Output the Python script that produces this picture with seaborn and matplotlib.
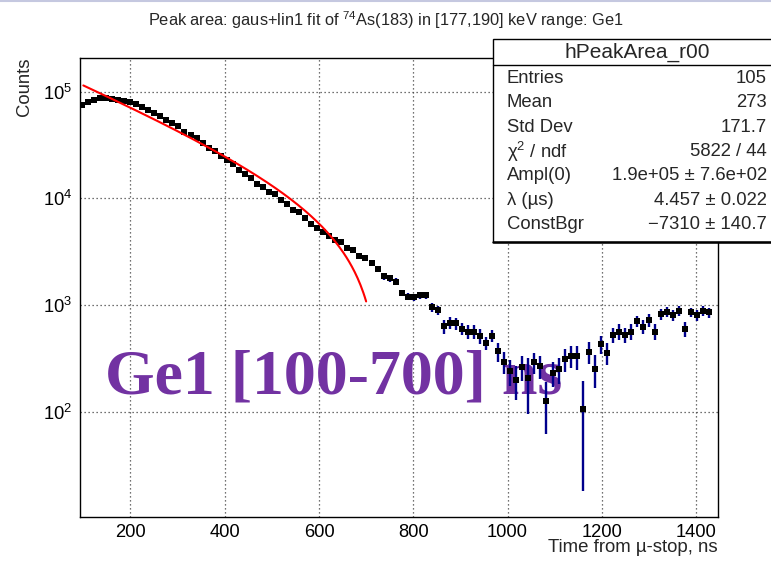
import numpy as np
import pandas as pd
import matplotlib
matplotlib.use("Agg")
import matplotlib.pyplot as plt
import seaborn as sns
from matplotlib.patches import Rectangle
from matplotlib.lines import Line2D
from matplotlib.ticker import LogLocator, MultipleLocator, LogFormatterMathtext, NullFormatter

# ---------------- data ----------------
time_ns = [
    97.0, 109.8, 122.6, 135.4, 148.2, 161.0, 173.8, 186.6, 199.4, 212.2,
    225.0, 237.8, 250.6, 263.4, 276.2, 289.0, 301.8, 314.6, 327.4, 340.2,
    353.0, 365.8, 378.6, 391.4, 404.2, 417.0, 429.8, 442.6, 455.4, 468.2,
    481.0, 493.8, 506.6, 519.4, 532.2, 545.0, 557.8, 570.6, 583.4, 596.2,
    609.0, 621.8, 634.6, 647.4, 660.2, 673.0, 685.8, 698.6, 711.4, 724.2,
    737.0, 749.8, 762.6, 775.4, 788.2, 801.0, 813.8, 826.6, 839.4, 852.2,
    865.0, 877.8, 890.6, 903.4, 916.2, 929.0, 941.8, 954.6, 967.4, 980.2,
    993.0, 1005.8, 1018.6, 1031.4, 1044.2, 1057.0, 1069.8, 1082.6, 1095.4, 1108.2,
    1121.0, 1133.8, 1146.6, 1159.4, 1172.2, 1185.0, 1197.8, 1210.6, 1223.4, 1236.2,
    1249.0, 1261.8, 1274.6, 1287.4, 1300.2, 1313.0, 1325.8, 1338.6, 1351.4, 1364.2,
    1377.0, 1389.8, 1402.6, 1415.4, 1428.2,
]
counts = [
    75000, 79600, 83000, 86700, 86700, 85500, 83000, 81800, 79600, 76300,
    71900, 67000, 63100, 58800, 54700, 50900, 47400, 41600, 39300, 37000,
    33000, 29500, 27800, 24800, 22800, 20900, 18600, 16800, 15400, 13700,
    12800, 11400, 10900, 9730, 8920, 7830, 7500, 6590, 5710, 5310,
    4810, 4410, 4100, 3880, 3410, 3300, 2860, 2750, 2460, 2190,
    1870, 1780, 1660, 1300, 1200, 1180, 1240, 1240, 950, 890,
    630, 684, 673, 598, 564, 564, 513, 444, 517, 367,
    293, 240, 198, 262, 206, 292, 267, 125, 232, 252,
    313, 335, 330, 106, 365, 253, 434, 358, 525, 564,
    525, 564, 710, 628, 728, 562, 817, 867, 802, 887,
    601, 857, 802, 887, 853,
]
count_err = [
    640, 660, 680, 700, 700, 690, 680, 670, 660, 650,
    630, 610, 590, 570, 550, 530, 510, 480, 470, 450,
    430, 410, 400, 380, 370, 350, 340, 320, 310, 300,
    290, 280, 270, 260, 250, 240, 230, 220, 210, 200,
    195, 190, 185, 180, 175, 170, 165, 160, 150, 145,
    140, 135, 130, 95, 95, 95, 90, 90, 87, 80,
    95, 85, 85, 75, 80, 80, 80, 63, 70, 75,
    68, 65, 69, 70, 111, 64, 66, 63, 61, 70,
    78, 80, 85, 88, 86, 85, 83, 82, 88, 95,
    88, 95, 84, 90, 100, 95, 95, 95, 100, 95,
    97, 90, 90, 90, 90,
]
# fit parameters shown in the stats box
fit_ampl = 1.9e5
fit_lambda = 4.457      # 1/us
fit_bgr = -7310.0
fit_range = (100, 700)

stat_labels = ["Entries", "Mean", "Std Dev", "\u03c7$^{2}$ / ndf", "Ampl(0)", "\u03bb (\u00b5s)", "ConstBgr"]
stat_values = ["105", "273", "171.7", "5822 / 44", "1.9e+05 \u00b1 7.6e+02",
               "4.457 \u00b1 0.022", "\u22127310 \u00b1 140.7"]

title = "Peak area: gaus+lin1 fit of $^{74}$As(183) in [177,190] keV range: Ge1"

# ---------------- style ----------------
sns.set_theme(style="white")
plt.rcParams['font.family'] = ['Liberation Sans', 'DejaVu Sans']
plt.rcParams['mathtext.fontset'] = 'custom'
plt.rcParams['mathtext.rm'] = 'Liberation Sans'
plt.rcParams['mathtext.it'] = 'Liberation Sans:italic'
plt.rcParams['mathtext.bf'] = 'Liberation Sans:bold'

W, H = 771, 562
fig = plt.figure(figsize=(W / 100, H / 100), dpi=100)
fig.patch.set_facecolor('white')
L, R, T, B = 79.7, 718.0, 57.5, 517.0
ax = fig.add_axes([L / W, 1 - B / H, (R - L) / W, (B - T) / H])
ax.set_facecolor('white')

df = pd.DataFrame({"time": time_ns, "counts": counts, "err": count_err})

ax.set_yscale('log')
ax.errorbar(df["time"], df["counts"], yerr=df["err"], fmt='none',
            ecolor='#00008c', elinewidth=1.7, capsize=0, zorder=3)
sns.scatterplot(data=df, x="time", y="counts", marker='s', s=25, color='black',
                linewidth=0, ax=ax, zorder=4, legend=False)

t_fit = np.linspace(fit_range[0], fit_range[1], 200)
f_fit = fit_ampl * np.exp(-fit_lambda * t_fit / 1000.0) + fit_bgr
sns.lineplot(x=t_fit, y=f_fit, color='#ff0000', linewidth=1.5, ax=ax, zorder=5)

ax.set_xlim(92.3, 1446.5)
ax.set_ylim(10.31, 2.09e5)

ax.xaxis.set_major_locator(MultipleLocator(200))
ax.xaxis.set_minor_locator(MultipleLocator(50))
ax.yaxis.set_major_locator(LogLocator(base=10))
ax.yaxis.set_minor_locator(LogLocator(base=10, subs=np.arange(2, 10)))
ax.yaxis.set_major_formatter(LogFormatterMathtext())
ax.yaxis.set_minor_formatter(NullFormatter())
ax.tick_params(axis='x', which='major', direction='in', length=10.5, width=0.8,
               labelsize=13.2, pad=5, color='black', top=False)
ax.tick_params(axis='x', which='minor', direction='in', length=5.5, width=0.8,
               color='black', top=False)
ax.tick_params(axis='y', which='major', direction='in', length=14, width=0.8,
               labelsize=13.2, pad=5.5, color='black', right=False)
ax.tick_params(axis='y', which='minor', direction='in', length=7, width=0.8,
               color='black', right=False)
for lab in ax.get_xticklabels() + ax.get_yticklabels():
    lab.set_color('black')

ax.grid(True, which='major', linestyle=(0, (1, 2.2)), color='#444444', linewidth=0.9)
for sp in ax.spines.values():
    sp.set_color('black')
    sp.set_linewidth(1.0)
ax.set_xlabel("")
ax.set_ylabel("")

# big purple annotation, under the data
ax.text(105 / W, 1 - 393 / H, "Ge1 [100-700] ns", transform=fig.transFigure,
        ha='left', va='baseline', fontsize=46, fontweight='bold',
        family=['Liberation Serif', 'DejaVu Serif'], color='#7232a2', zorder=2)

# axis titles and title
fig.text(R / W, 1 - 548 / H, "Time from \u00b5-stop, ns", ha='right', va='center', fontsize=13.4)
fig.text(25 / W, 1 - 57.5 / H, "Counts", rotation=90, ha='center', va='top', fontsize=13.3)
fig.text(0.5, 1 - 20 / H, title, ha='center', va='center', fontsize=11.8)

# stats box
bx0, by0, by1 = 493.5, 38.5, 241.7
fig.add_artist(Rectangle((bx0 / W, 1 - by1 / H), (W + 5 - bx0) / W, (by1 - by0) / H,
                         transform=fig.transFigure, facecolor='white', edgecolor='black',
                         linewidth=1.0, zorder=10))
fig.add_artist(Line2D([bx0 / W, 1.0], [1 - 65 / H, 1 - 65 / H], transform=fig.transFigure,
                      color='black', linewidth=1.0, zorder=11))
fig.add_artist(Line2D([bx0 / W, 1.0], [1 - by1 / H, 1 - by1 / H], transform=fig.transFigure,
                      color='black', linewidth=1.8, zorder=11))
fig.text(637.7 / W, 1 - 52 / H, "hPeakArea_r00", ha='center', va='center', fontsize=15, zorder=12)
for k, (lab, val) in enumerate(zip(stat_labels, stat_values)):
    yy = 78.3 + 24.4 * k
    fig.text(506.7 / W, 1 - yy / H, lab, ha='left', va='center', fontsize=13.3, zorder=12)
    fig.text(766.7 / W, 1 - yy / H, val, ha='right', va='center', fontsize=13.3, zorder=12)

# thin window border at the top
fig.add_artist(Line2D([0, 1], [1 - 0.8 / H, 1 - 0.8 / H], transform=fig.transFigure,
                      color='#c5c8e0', linewidth=1.5, zorder=12))

fig.savefig("out.png", dpi=100)
